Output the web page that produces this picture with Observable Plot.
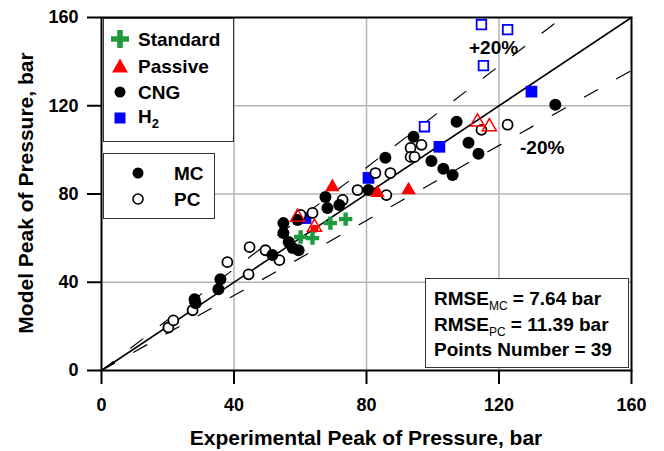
<!DOCTYPE html>
<html><head><meta charset="utf-8">
<script src="https://cdn.jsdelivr.net/npm/d3@7"></script>
<script src="https://cdn.jsdelivr.net/npm/@observablehq/plot@0.6"></script>
<style>
body{margin:0;background:#fff;font-family:"Liberation Sans",Arial,sans-serif;}
#wrap{position:relative;width:664px;height:451px;overflow:hidden;}
.box{position:absolute;border:1.5px solid #333;background:#fff;box-sizing:border-box;}
.t{position:absolute;font-weight:bold;font-size:19px;color:#000;white-space:nowrap;line-height:1;transform:translateY(-50%);}
.sub{font-size:12px;font-weight:normal;position:relative;top:5px;}
.sym{position:absolute;overflow:visible;}
</style></head><body><div id="wrap"></div>
<script>
// ---- data (Experimental, Model) in bar ----
const ticks = [0, 40, 80, 120, 160];
const gridTicks = [40, 80, 120];
const seriesNames = ["Standard", "Passive", "CNG", "H2"];
const standard = [[60.1,60.5],[63.7,60.0],[69.1,66.8],[73.7,68.6]];
const passiveMC = [[69.7,83.2],[83.3,80.5],[92.7,81.8]];
const passiveMCdot = [[64.3,64.3]];
const passivePC = [[59.2,69.5],[64.3,65.0],[113.5,112.7],[117.1,110.5]];
const h2MC = [[61.6,69.1],[80.6,87.3],[102.0,101.4],[129.8,126.4]];
const h2PC = [[97.5,110.5],[114.7,156.8],[122.6,154.5],[115.3,138.2]];
const cngMC = [[28.1,32.3],[28.4,30.5],[35.9,41.4],[35.3,36.8],[51.6,52.3],[54.9,66.8],[54.9,62.3],[56.5,58.2],[57.7,55.5],[59.5,54.5],[59.2,68.2],[67.6,78.6],[68.2,73.6],[71.8,75.0],[80.6,81.8],[85.7,96.4],[94.2,105.9],[99.6,95.0],[103.2,91.4],[106.0,88.6],[107.2,112.7],[110.8,103.2],[113.8,98.2],[137.0,120.5]];
const cngPC = [[20.2,19.5],[21.7,22.7],[27.5,27.3],[38.0,49.1],[44.7,55.9],[44.4,43.6],[49.5,54.5],[53.7,50.0],[60.1,70.5],[63.7,71.4],[72.8,77.3],[77.3,81.8],[82.7,89.5],[87.2,89.5],[86.0,79.5],[93.3,100.9],[96.6,102.3],[93.3,96.8],[94.5,96.8],[114.7,109.1],[122.6,111.4]];
const bandUpper = 1.15, bandLower = 0.85;
const statLines = [["RMSE","MC"," = 7.64 bar"],["RMSE","PC"," = 11.39 bar"],["Points Number = 39","",""]];

const refLine = [[0,0],[160,160]];
const upperLine = [[0,0],[160/bandUpper,160]];
const lowerLine = [[0,0],[160,160*bandLower]];
const X = d => d[0], Y = d => d[1];

const plot = Plot.plot({
  width: 664, height: 451,
  marginLeft: 101, marginRight: 33, marginTop: 17, marginBottom: 81,
  x: {domain: [0,160]}, y: {domain: [0,160]},
  style: {fontFamily: '"Liberation Sans", Arial, sans-serif', fontWeight: "bold", fontSize: "18px", color: "#000", background: "#fff"},
  marks: [
    Plot.gridX({ticks: gridTicks, stroke: "#b5b5b5", strokeOpacity: 1, strokeWidth: 1.5}),
    Plot.gridY({ticks: gridTicks, stroke: "#b5b5b5", strokeOpacity: 1, strokeWidth: 1.5}),
    Plot.line(upperLine, {x: X, y: Y, stroke: "#000", strokeWidth: 1.2, strokeDasharray: "15,22", clip: true}),
    Plot.line(lowerLine, {x: X, y: Y, stroke: "#000", strokeWidth: 1.2, strokeDasharray: "15,22", clip: true}),
    Plot.line(refLine, {x: X, y: Y, stroke: "#000", strokeWidth: 1.6}),
    Plot.dot(h2MC, {x: X, y: Y, symbol: "square", r: 6.6, fill: "#0000ff"}),
    Plot.dot(cngPC, {x: X, y: Y, r: 5, fill: "white", stroke: "black", strokeWidth: 1.8}),
    Plot.dot(cngMC, {x: X, y: Y, r: 6, fill: "black"}),
    Plot.dot(h2PC, {x: X, y: Y, symbol: "square", r: 5.4, fill: "white", stroke: "#0000ff", strokeWidth: 1.8}),
    Plot.dot(passiveMC, {x: X, y: Y, symbol: "triangle", r: 5.4, fill: "#ff0000"}),
    Plot.dot(passiveMCdot, {x: X, y: Y, r: 4, fill: "#ff0000"}),
    Plot.dot(passivePC, {x: X, y: Y, symbol: "triangle", r: 5.2, fill: "none", stroke: "#ff0000", strokeWidth: 1.5}),
    Plot.dot(standard, {x: X, y: Y, symbol: "cross", r: 5.6, fill: "#1f9a3c"}),
    Plot.axisX({ticks, tickSize: 14, tickPadding: 14, label: null, strokeWidth: 2, fontSize: 18}),
    Plot.axisY({ticks, tickSize: 14, tickPadding: 9, label: null, strokeWidth: 2, fontSize: 18}),
    Plot.frame({stroke: "#000", strokeWidth: 2})
  ]
});

const wrap = document.getElementById("wrap");
wrap.appendChild(plot);

function box(l, t, w, h) {
  const b = document.createElement("div");
  b.className = "box";
  Object.assign(b.style, {left: l + "px", top: t + "px", width: w + "px", height: h + "px"});
  wrap.appendChild(b);
}
function text(html, l, cy, extra) {
  const d = document.createElement("div");
  d.className = "t";
  d.innerHTML = html;
  Object.assign(d.style, {left: l + "px", top: cy + "px"}, extra || {});
  wrap.appendChild(d);
  return d;
}
function sym(svgInner, cx, cy) {
  const ns = "http://www.w3.org/2000/svg";
  const s = document.createElementNS(ns, "svg");
  s.setAttribute("class", "sym");
  s.setAttribute("width", 24); s.setAttribute("height", 24);
  s.setAttribute("viewBox", "-12 -12 24 24");
  s.style.left = (cx - 12) + "px"; s.style.top = (cy - 12) + "px";
  s.innerHTML = svgInner;
  wrap.appendChild(s);
}
// Legend 1 (types)
box(103, 18, 131, 124);
const legY = [39, 66, 92, 118];
sym('<path d="M-2.8,-9H2.8V-2.8H9V2.8H2.8V9H-2.8V2.8H-9V-2.8H-2.8Z" fill="#1f9a3c"/>', 120, legY[0]);
sym('<path d="M0,-7.5L8,6.5H-8Z" fill="#ff0000"/>', 120, legY[1]);
sym('<circle r="5.5" fill="#000"/>', 120, legY[2]);
sym('<rect x="-5.5" y="-5.5" width="11" height="11" fill="#0000ff"/>', 120, legY[3]);
text(seriesNames[0], 138, legY[0]);
text(seriesNames[1], 138, legY[1]);
text(seriesNames[2], 138, legY[2]);
text('H<span class="sub" style="font-weight:bold;font-size:13px">2</span>', 138, legY[3] - 2);
// Legend 2 (MC / PC)
box(103, 153, 112, 66);
sym('<circle r="5.5" fill="#000"/>', 138, 173);
sym('<circle r="5" fill="#fff" stroke="#000" stroke-width="1.6"/>', 138, 199);
text("MC", 174, 173);
text("PC", 174, 199);
// band labels
text("+20%", 469, 47);
text("-20%", 520, 147);
// stats box
box(425, 278, 204, 90);
const statY = [298, 324, 349];
statLines.forEach((s, i) => {
  text(s[0] + (s[1] ? '<span class="sub">' + s[1] + '</span>' : '') + s[2], 434, statY[i]);
});
// axis titles
text("Experimental Peak of Pressure, bar", 366, 437, {fontSize: "21px", transform: "translate(-50%,-50%)"});
text("Model Peak of Pressure, bar", 25, 193, {fontSize: "21px", transform: "translate(-50%,-50%) rotate(-90deg)"});
</script></body></html>
